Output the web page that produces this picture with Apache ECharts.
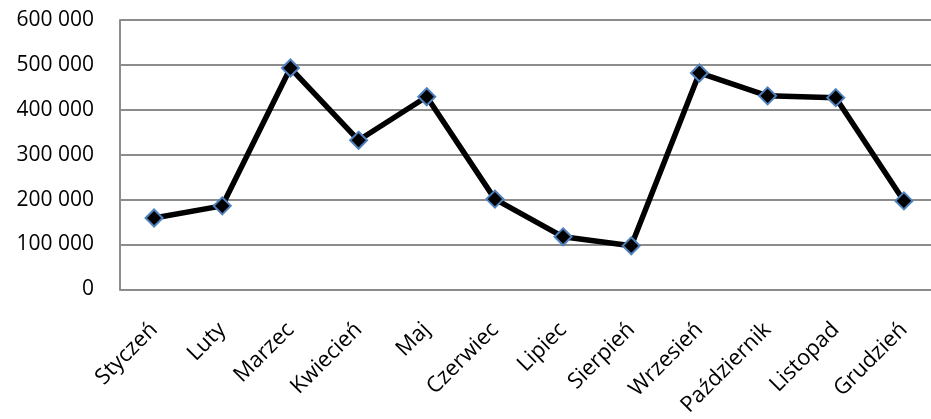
<!DOCTYPE html>
<html><head><meta charset="utf-8">
<script src="https://cdn.jsdelivr.net/npm/echarts@6/dist/echarts.min.js"></script>
<style>html,body{margin:0;padding:0;background:#fff;overflow:hidden}#c{width:945px;height:419px}</style>
</head><body><div id="c"></div>
<script>
const categories = ['Styczeń','Luty','Marzec','Kwiecień','Maj','Czerwiec','Lipiec','Sierpień','Wrzesień','Październik','Listopad','Grudzień'];
const values = [159000, 186000, 493000, 332000, 429000, 201000, 117000, 97000, 482000, 431000, 427000, 197000];
const yMin = 0, yMax = 600000, yStep = 100000;

const chart = echarts.init(document.getElementById('c'));
chart.setOption({
  animation: false,
  grid: { left: 120, top: 20, width: 818, height: 271, containLabel: false },
  xAxis: {
    type: 'category', data: categories, boundaryGap: true,
    axisLine: { lineStyle: { color: '#8c8c8c', width: 2 } },
    axisTick: { show: false },
    axisLabel: { rotate: 45, interval: 0, margin: 37, color: '#000', fontFamily: 'Open Sans', fontSize: 22 }
  },
  yAxis: {
    type: 'value', min: yMin, max: yMax, interval: yStep,
    axisLine: { show: true, lineStyle: { color: '#8c8c8c', width: 2 } },
    axisTick: { show: false },
    splitLine: { lineStyle: { color: '#8c8c8c', width: 2 } },
    axisLabel: { margin: 26, color: '#000', fontFamily: 'Open Sans', fontSize: 21,
      formatter: v => v === 0 ? '0' : String(v).replace(/\B(?=(\d{3})+(?!\d))/g, ' ') }
  },
  series: [{
    type: 'line', data: values,
    lineStyle: { color: '#000', width: 5.5 },
    symbol: 'diamond', symbolSize: 17,
    itemStyle: { color: '#000', borderColor: '#4f81bd', borderWidth: 2 }
  }]
});
</script></body></html>
